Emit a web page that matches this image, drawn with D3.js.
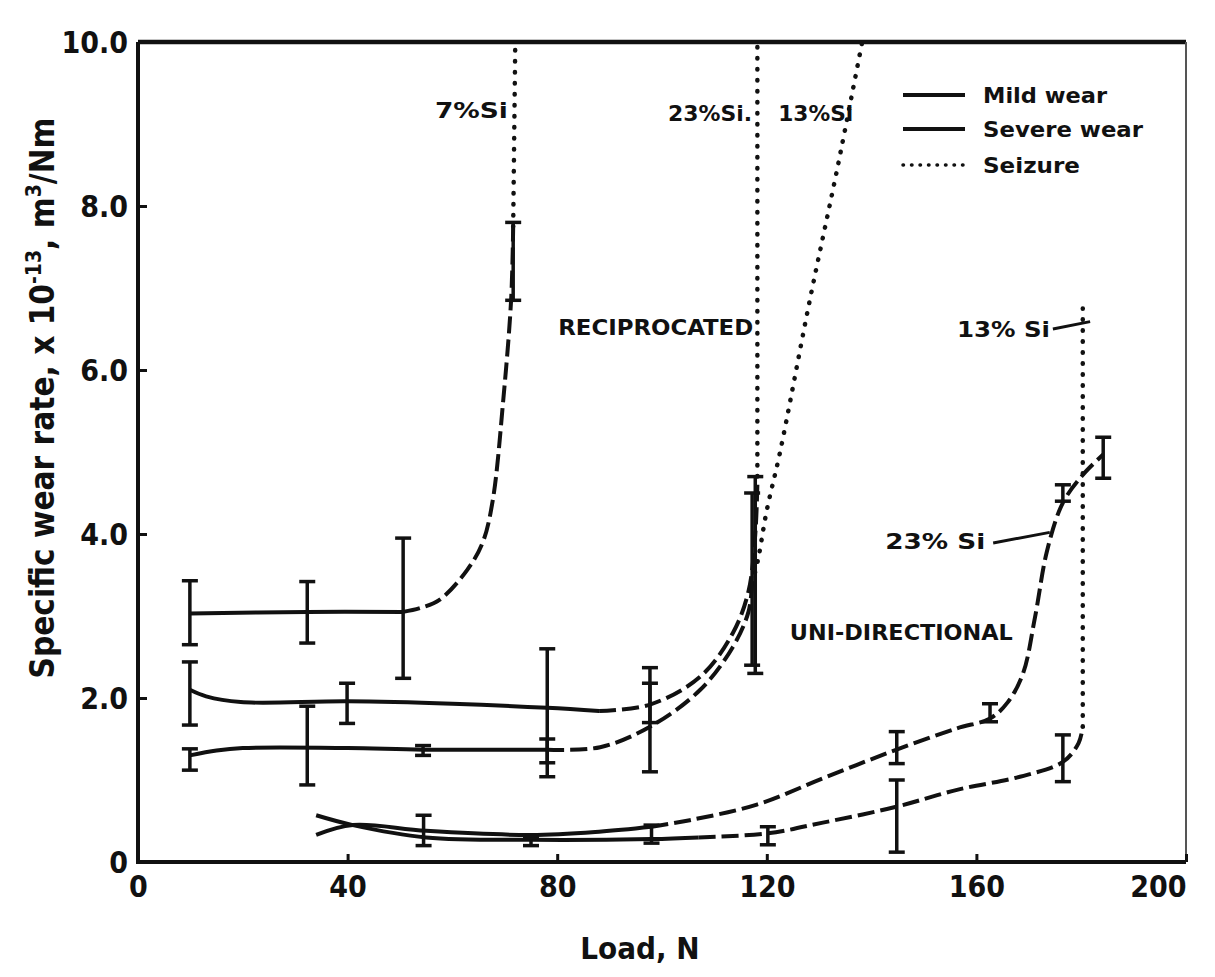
<!DOCTYPE html>
<html>
<head>
<meta charset="utf-8">
<script src="https://cdn.jsdelivr.net/npm/d3@7"></script>
<style>
  html, body { margin: 0; padding: 0; background: #fff; }
  svg text { font-family: "DejaVu Sans Condensed", "Liberation Sans Narrow", sans-serif; font-weight: bold; fill: #111; }
</style>
</head>
<body>
<svg id="chart" width="1215" height="977"></svg>
<script>
// ---- axis ticks ----
const loadTicks = [0, 40, 80, 120, 160, 200];
const rateTicks = [0, 2, 4, 6, 8, 10];
const rateTickLabels = ["0", "2.0", "4.0", "6.0", "8.0", "10.0"];

// ---- curves: [load N, specific wear rate x1e-13 m3/Nm] ----
// Reciprocated, 7% Si
const recip7Mild    = [[9.9, 3.03], [32.3, 3.05], [50.6, 3.05]];
const recip7Severe  = [[50.6, 3.05], [54, 3.1], [57.6, 3.2], [62.8, 3.56], [65.8, 3.9], [67.7, 4.41], [69.7, 5.63], [71.2, 6.85], [71.6, 7.75]];
const recip7Seizure = [[71.6, 7.75], [72, 10]];
// Reciprocated, 23% Si
const recip23Mild    = [[9.9, 2.1], [13, 2.02], [19.6, 1.95], [40, 1.96], [60, 1.93], [78.1, 1.88], [88, 1.84]];
const recip23Severe  = [[88, 1.84], [97.7, 1.92], [107.3, 2.26], [113.5, 2.79], [116.5, 3.3], [117.8, 4.0], [118.2, 4.6]];
const recip23Seizure = [[118.2, 4.7], [118.2, 10]];
// Reciprocated, 13% Si
const recip13Mild    = [[9.9, 1.3], [15, 1.36], [20, 1.39], [40, 1.39], [54.4, 1.37], [78.1, 1.37]];
const recip13Severe  = [[78.1, 1.37], [88.2, 1.4], [97.7, 1.65], [107.3, 2.1], [113.5, 2.62], [116.5, 3.05], [117.2, 3.4]];
const recip13Seizure = [[117.2, 3.4], [118.3, 3.68], [120, 4.29], [122.5, 4.99], [128.2, 6.85], [133.4, 8.44], [138.2, 10]];
// Uni-directional, 23% Si
const uni23Mild   = [[34, 0.33], [41, 0.45], [55, 0.38], [75, 0.33], [88, 0.37], [98, 0.43]];
const uni23Severe = [[98, 0.43], [105.3, 0.51], [118.1, 0.7], [130.7, 1.02], [143.5, 1.34], [156.3, 1.63], [162.6, 1.75], [166, 1.95], [168.9, 2.3], [171.2, 2.99], [173.5, 3.8], [176.5, 4.38], [180.3, 4.72], [184.2, 4.97]];
// Uni-directional, 13% Si
const uni13Mild    = [[34, 0.57], [41, 0.45], [55, 0.3], [75, 0.27], [98, 0.28], [107, 0.3]];
const uni13Severe  = [[107, 0.3], [120.2, 0.35], [130.7, 0.48], [144.5, 0.67], [156.3, 0.88], [168.3, 1.04], [176.5, 1.22], [179.5, 1.45], [180.3, 1.65]];
const uni13Seizure = [[180.3, 1.65], [180.3, 6.75]];

// ---- scatter bands: [load, low, high] ----
const recip7Bars  = [[9.9, 2.65, 3.43], [32.3, 2.67, 3.42], [50.6, 2.24, 3.95], [71.6, 6.85, 7.8]];
const recip23Bars = [[9.9, 1.67, 2.44], [39.9, 1.69, 2.18], [78.1, 1.21, 2.6], [97.7, 1.7, 2.37], [117.8, 2.3, 4.7]];
const recip13Bars = [[9.9, 1.12, 1.38], [32.3, 0.94, 1.9], [54.4, 1.3, 1.42], [78.1, 1.04, 1.5], [97.7, 1.1, 2.18], [117.2, 2.4, 4.5]];
const uni23Bars   = [[54.5, 0.2, 0.57], [98, 0.23, 0.45], [144.8, 1.2, 1.59], [162.6, 1.71, 1.93], [176.5, 4.4, 4.6], [184.2, 4.68, 5.18]];
const uni13Bars   = [[75, 0.2, 0.3], [120.2, 0.21, 0.43], [144.8, 0.12, 1.0], [176.5, 0.98, 1.55]];

// ---- text annotations: [text, load, rate, anchor, width px] ----
const annotations = [
  ["7%Si", 70.6, 9.17, "end", 73],
  ["23%Si.", 117.2, 9.13, "end", 84],
  ["13%Si", 136.5, 9.13, "end", 75],
  ["RECIPROCATED", 117.4, 6.52, "end", 195],
  ["UNI-DIRECTIONAL", 124.4, 2.8, "start", 223],
  ["13% Si", 156.3, 6.49, "start", 93],
  ["23% Si", 142.6, 3.91, "start", 100]
];
// leader lines from labels: [[load, rate], [load, rate]]
const leaders = [
  [[174.6, 6.5], [181.7, 6.59]],
  [[163.2, 3.89], [174, 4.02]]
];

const legendItems = ["Mild wear", "Severe wear", "Seizure"];
const legendWidths = [124, 160, 97];

// ---- drawing ----
const svg = d3.select("#chart");
const x = d3.scaleLinear().domain([0, 200]).range([138, 1186]);
const y = d3.scaleLinear().domain([0, 10]).range([862, 42]);

const ink = "#111";
const styles = {
  mild:    { width: 4,   dash: null,        cap: "butt" },
  severe:  { width: 4,   dash: "17 6",      cap: "butt" },
  seizure: { width: 4.5, dash: "0.5 10.5",  cap: "round" }
};

const line = d3.line()
  .x(d => x(d[0]))
  .y(d => y(d[1]))
  .curve(d3.curveCatmullRom.alpha(0.5));

function drawCurve(pts, kind) {
  const s = styles[kind];
  svg.append("path")
    .attr("d", line(pts))
    .attr("fill", "none")
    .attr("stroke", ink)
    .attr("stroke-width", s.width)
    .attr("stroke-linecap", s.cap)
    .attr("stroke-dasharray", s.dash);
}

[[recip7Mild, "mild"], [recip7Severe, "severe"], [recip7Seizure, "seizure"],
 [recip23Mild, "mild"], [recip23Severe, "severe"], [recip23Seizure, "seizure"],
 [recip13Mild, "mild"], [recip13Severe, "severe"], [recip13Seizure, "seizure"],
 [uni23Mild, "mild"], [uni23Severe, "severe"],
 [uni13Mild, "mild"], [uni13Severe, "severe"], [uni13Seizure, "seizure"]]
  .forEach(([p, k]) => drawCurve(p, k));

// scatter bands with end caps
const capHalf = 8;
const bars = svg.append("g").attr("stroke", ink).attr("stroke-width", 3.5);
[recip7Bars, recip23Bars, recip13Bars, uni23Bars, uni13Bars].forEach(set => {
  set.forEach(([l, lo, hi]) => {
    bars.append("line").attr("x1", x(l)).attr("x2", x(l)).attr("y1", y(lo)).attr("y2", y(hi));
    [lo, hi].forEach(v => bars.append("line")
      .attr("x1", x(l) - capHalf).attr("x2", x(l) + capHalf)
      .attr("y1", y(v)).attr("y2", y(v)));
  });
});

// frame
svg.append("path")
  .attr("d", `M${x(0)},${y(10)} H${x(200)}`)
  .attr("stroke", ink).attr("stroke-width", 4.5);
svg.append("path")
  .attr("d", `M${x(0)},${y(10)} V${y(0)} H${x(200)}`)
  .attr("fill", "none").attr("stroke", ink).attr("stroke-width", 4);
svg.append("path")
  .attr("d", `M${x(200)},${y(10)} V${y(0)}`)
  .attr("stroke", "#555").attr("stroke-width", 2);

// ticks (inward)
const yAxis = d3.axisLeft(y).tickValues(rateTicks).tickSize(-9).tickFormat((d, i) => rateTickLabels[i]).tickPadding(10);
const gy = svg.append("g").attr("transform", `translate(${x(0)},0)`).call(yAxis);
gy.select(".domain").remove();
gy.selectAll(".tick line").attr("stroke", ink).attr("stroke-width", 3);
gy.selectAll(".tick text").attr("font-size", 30).attr("dy", "0.35em");

const xAxis = d3.axisBottom(x).tickValues(loadTicks).tickSize(-8).tickFormat(d3.format("d")).tickPadding(14);
const gx = svg.append("g").attr("transform", `translate(0,${y(0)})`).call(xAxis);
gx.select(".domain").remove();
gx.selectAll(".tick line").attr("stroke", ink).attr("stroke-width", 3);
gx.selectAll(".tick text").attr("font-size", 30).attr("dy", "0.71em");
gx.selectAll(".tick text").filter(d => d === 200).attr("text-anchor", "end").attr("dx", 0);

// axis titles
svg.append("text")
  .attr("x", 640).attr("y", 948)
  .attr("text-anchor", "middle").attr("dominant-baseline", "central")
  .attr("font-size", 31)
  .text("Load, N");

const yTitle = svg.append("text")
  .attr("transform", "translate(54,398) rotate(-90)")
  .attr("text-anchor", "middle")
  .attr("font-size", 33);
yTitle.append("tspan").text("Specific wear rate, x 10");
yTitle.append("tspan").attr("font-size", 21).attr("dy", -13).text("-13");
yTitle.append("tspan").attr("dy", 13).text(", m");
yTitle.append("tspan").attr("font-size", 21).attr("dy", -13).text("3");
yTitle.append("tspan").attr("dy", 13).text("/Nm");

// annotations
annotations.forEach(([t, l, v, anchor, w]) => {
  svg.append("text")
    .attr("x", x(l)).attr("y", y(v))
    .attr("text-anchor", anchor).attr("dominant-baseline", "central")
    .attr("font-size", 22)
    .attr("textLength", w).attr("lengthAdjust", "spacingAndGlyphs")
    .text(t);
});
leaders.forEach(seg => {
  svg.append("path").attr("d", d3.line().x(d => x(d[0])).y(d => y(d[1]))(seg))
    .attr("stroke", ink).attr("stroke-width", 3).attr("fill", "none");
});

// legend
const legend = svg.append("g").attr("transform", "translate(903,95)");
legendItems.forEach((name, i) => {
  const kind = ["mild", "severe", "seizure"][i];
  const g = legend.append("g").attr("transform", `translate(0,${[0, 34, 70][i]})`);
  g.append("line").attr("x1", 0).attr("x2", 62).attr("y1", 0).attr("y2", 0)
    .attr("stroke", ink)
    .attr("stroke-width", kind === "seizure" ? 3.5 : 4)
    .attr("stroke-linecap", kind === "seizure" ? "round" : "butt")
    .attr("stroke-dasharray", kind === "seizure" ? "0.5 8" : (kind === "severe" ? "62 6" : null));
  g.append("text").attr("x", 80).attr("y", 0)
    .attr("dominant-baseline", "central").attr("font-size", 22)
    .attr("textLength", legendWidths[i]).attr("lengthAdjust", "spacingAndGlyphs")
    .text(name);
});
</script>
</body>
</html>
